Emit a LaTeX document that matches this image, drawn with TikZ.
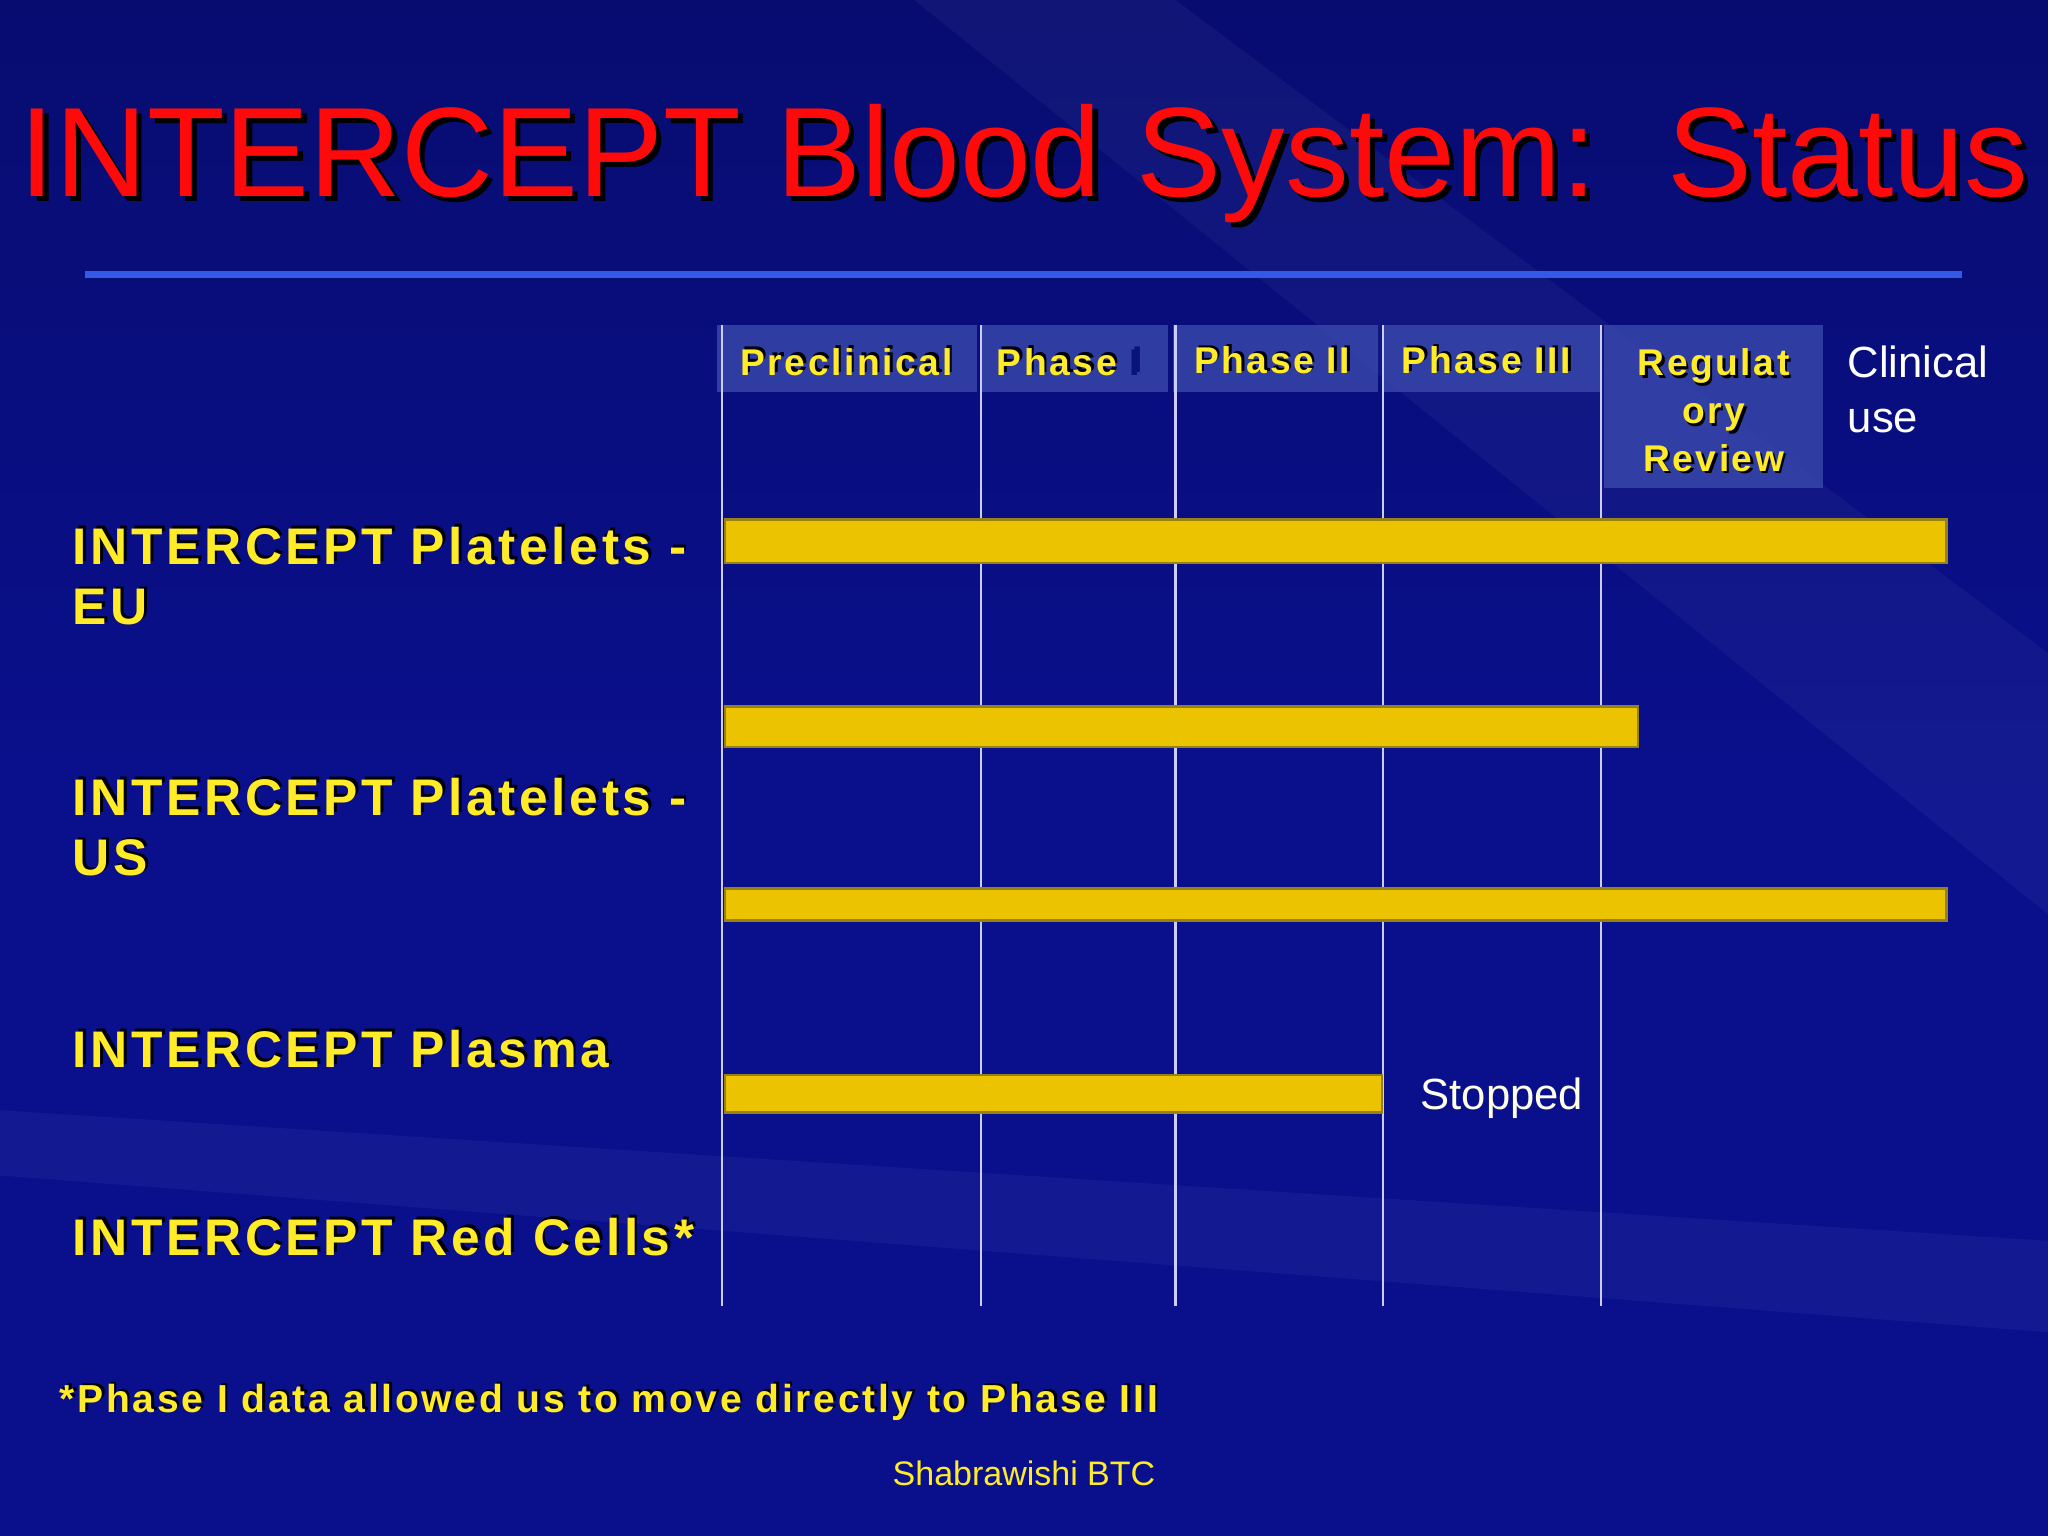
\documentclass[tikz,border=0pt]{standalone}
\usepackage{fontspec}
\setmainfont{Liberation Sans}
\newfontfamily\spaced[LetterSpace=7]{Liberation Sans}
\usetikzlibrary{calc}
\definecolor{bgblue}{RGB}{10,16,140}
\definecolor{bgdark}{RGB}{6,10,95}
\definecolor{ttlred}{RGB}{255,10,10}
\definecolor{ylw}{RGB}{255,235,40}
\definecolor{barY}{RGB}{235,195,0}
\definecolor{barB}{RGB}{150,130,20}
\definecolor{rule}{RGB}{50,90,230}
\definecolor{cell}{RGB}{55,70,170}
\definecolor{dkb}{RGB}{10,20,120}
\tikzset{
  sh/.style={text=ylw,font=\spaced\bfseries\fontsize{#1}{#1}\selectfont,inner sep=0pt},
  hdr/.style={fill=cell,fill opacity=0.85,text opacity=1,draw=none},
  bar/.style={fill=barY,draw=barB,line width=0.6pt},
  vl/.style={draw=white!80!blue,line width=0.5pt},
}
\newcommand{\shtext}[4]{% pos, anchor, size, text
  \node[sh=#3,text=black,anchor=#2] at ($#1+(2,-2)$) {#4};
  \node[sh=#3,anchor=#2] at #1 {#4};}
\begin{document}
\begin{tikzpicture}[x=0.01cm,y=-0.01cm]
\useasboundingbox (0,0) rectangle (1568,1176);
\fill[bgblue] (0,0) rectangle (1568,1176);
\shade[top color=bgdark,bottom color=bgblue,opacity=0.6] (0,0) rectangle (1568,600);
\fill[white,opacity=0.04] (900,0) -- (1568,500) -- (1568,700) -- (700,0) -- cycle;
\fill[white,opacity=0.04] (0,850) -- (1568,950) -- (1568,1020) -- (0,900) -- cycle;
% title
\node[text=black,font=\fontsize{27.7}{30}\selectfont,inner sep=0pt] (tsh) at (788,129) {INTERCEPT Blood System:\ \ Status};
\node[text=ttlred,font=\fontsize{27.7}{30}\selectfont,inner sep=0pt] (title) at (784,125) {INTERCEPT Blood System:\ \ Status};
\draw[rule,line width=1.6pt] (65,210) coordinate (r1) -- (1502,210) coordinate (r2);
% header cells
\fill[hdr] (549,249) rectangle (748,300);
\fill[hdr] (751,249) rectangle (894,300);
\fill[hdr] (898,249) rectangle (1055,300);
\fill[hdr] (1058,249) rectangle (1225,300);
\fill[hdr] (1228,249) rectangle (1396,374);
\foreach \x in {553,751,900,1059,1226} \draw[vl] (\x,249) -- (\x,1000);
\shtext{(648,277)}{center}{8.1}{Preclinical}
\shtext{(818,277)}{center}{8.1}{Phase \textcolor{dkb}{I}}
\shtext{(974,276)}{center}{8.1}{Phase II}
\shtext{(1138,276)}{center}{8.1}{Phase III}
\node[sh=8.1,text=black,align=center,font=\spaced\bfseries\fontsize{8.1}{10.4}\selectfont] at (1314,316) {Regulat\\ory\\Review};
\node[sh=8.1,align=center,font=\spaced\bfseries\fontsize{8.1}{10.4}\selectfont] (reg) at (1312,314) {Regulat\\ory\\Review};
\node[text=white,anchor=north west,align=left,font=\fontsize{9.5}{12}\selectfont,inner sep=0pt] (cu) at (1414,264) {Clinical\\use};
% bars
\draw[bar] (555,398) rectangle (1490,431);
\draw[bar] (555,541) rectangle (1254,572);
\draw[bar] (555,680) rectangle (1490,705);
\draw[bar] (555,823) rectangle (1058,852);
\node[text=white!90!yellow,anchor=west,font=\fontsize{9.5}{12}\selectfont,inner sep=0pt] (stp) at (1087,841) {Stopped};
% row labels
\shtext{(55,418)}{west}{11.2}{INTERCEPT Platelets -}
\shtext{(55,465)}{west}{11.2}{EU}
\shtext{(55,610)}{west}{11.2}{INTERCEPT Platelets -}
\shtext{(55,657)}{west}{11.2}{US}
\shtext{(55,803)}{west}{11.2}{INTERCEPT Plasma}
\shtext{(55,947)}{west}{11.2}{INTERCEPT Red Cells*}
\shtext{(45,1074)}{west}{8.5}{*Phase I data allowed us to move directly to Phase III}
\node[text=ylw,font=\fontsize{7.4}{9}\selectfont,inner sep=0pt] (ft) at (784,1128) {Shabrawishi BTC};
\end{tikzpicture}
\end{document}
